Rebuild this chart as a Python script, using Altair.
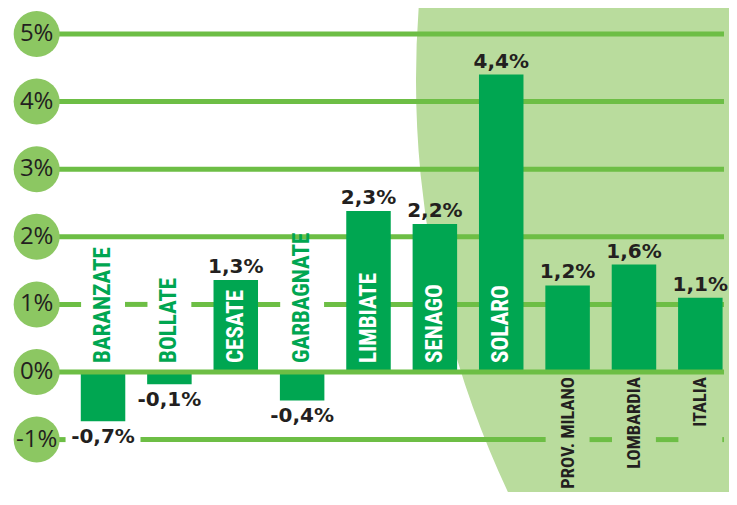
import math
import altair as alt
import pandas as pd

# ---------------- data ----------------
categories = ["BARANZATE", "BOLLATE", "CESATE", "GARBAGNATE", "LIMBIATE",
              "SENAGO", "SOLARO", "PROV. MILANO", "LOMBARDIA", "ITALIA"]
values = [-0.73, -0.18, 1.36, -0.42, 2.38, 2.19, 4.4, 1.28, 1.59, 1.1]
value_labels = ["-0,7%", "-0,1%", "1,3%", "-0,4%", "2,3%", "2,2%", "4,4%",
                "1,2%", "1,6%", "1,1%"]
aggregates = ["PROV. MILANO", "LOMBARDIA", "ITALIA"]
tick_values = [5, 4, 3, 2, 1, 0, -1]
tick_labels = ["5%", "4%", "3%", "2%", "1%", "0%", "-1%"]

# ---------------- style ----------------
BAR = "#00a651"
LINE = "#6dbe45"
DOT = "#8cc762"
BG = "#b9dc9d"
INK = "#231f20"
W, H = 721, 484
STEP = 67.3
TICK_X = 24.0                      # pixel centre of the tick circles
X0 = TICK_X + STEP                 # pixel centre of first bar
XMIN, XMAX = -X0 / STEP, (W - X0) / STEP
PX_PER = 67.6
ZERO_Y = 364.0
YMAX = ZERO_Y / PX_PER
YMIN = -(H - ZERO_Y) / PX_PER
BARW = 44.5
HALF = BARW / STEP / 2

n = len(categories)
df = pd.DataFrame({
    "i": list(range(n)),
    "cat": categories,
    "value": values,
    "label": value_labels,
})
df["base"] = 0.0
df["agg"] = df["cat"].isin(aggregates)

xs = alt.Scale(domain=[XMIN, XMAX], nice=False, zero=False)
ys = alt.Scale(domain=[YMIN, YMAX], nice=False, zero=False)
X = lambda f: alt.X(f, scale=xs, axis=None)
Y = lambda f: alt.Y(f, scale=ys, axis=None)

# background round shape (vega circle radius = sqrt(size)/2)
R = 968
bg = alt.Chart(pd.DataFrame({"a": [0]})).mark_circle(
    color=BG, opacity=1, size=(2 * R) ** 2, clip=True
).encode(x=alt.value(408 + R), y=alt.value(72))

# grid line segments
def segments(yv, gaps):
    segs = []
    start = -1.0
    for c, hw in sorted(gaps):
        segs.append((yv, start, c - hw))
        start = c + hw
    segs.append((yv, start, XMAX))
    return segs

seg_rows = []
for t in tick_values:
    if t == 0:
        continue
    if t == 1:
        gaps = [(k, HALF) for k in range(n) if values[k] < 0]
    elif t == -1:
        gaps = [(0, 38 / STEP)] + [(k, HALF) for k in range(n) if categories[k] in aggregates]
    else:
        gaps = []
    seg_rows += segments(t, gaps)
segdf = pd.DataFrame(seg_rows, columns=["y", "x0", "x1"])

grid = alt.Chart(segdf).mark_rule(color=LINE, strokeWidth=5, clip=True).encode(
    x=X("x0:Q"), x2="x1:Q", y=Y("y:Q"))

zero = alt.Chart(pd.DataFrame({"y": [0.0], "x0": [-1.0], "x1": [XMAX]})).mark_rule(
    color=LINE, strokeWidth=5, clip=True).encode(x=X("x0:Q"), x2="x1:Q", y=Y("y:Q"))

bars = alt.Chart(df).mark_bar(color=BAR, width=BARW, orient="vertical").encode(
    x=X("i:Q"), y=Y("value:Q"), y2="base:Q")

tdf = pd.DataFrame({"t": tick_values, "lab": tick_labels})
tdf["x"] = -1.0
dots = alt.Chart(tdf).mark_circle(color=DOT, opacity=1, size=46 ** 2).encode(
    x=X("x:Q"), y=Y("t:Q"))
dot_text = alt.Chart(tdf).mark_text(
    font="Open Sans", fontSize=24, color=INK, baseline="middle", align="center"
).encode(x=X("x:Q"), y=Y("t:Q"), text="lab:N")

VFONT = "DejaVu Sans"
pos_lab = alt.Chart(df[df.value >= 0]).mark_text(
    font=VFONT, fontWeight="bold", fontSize=20, color=INK, baseline="alphabetic",
    align="center", dy=-7
).encode(x=X("i:Q"), y=Y("value:Q"), text="label:N")
neg_lab = alt.Chart(df[df.value < 0]).mark_text(
    font=VFONT, fontWeight="bold", fontSize=20, color=INK, baseline="top",
    align="center", dy=6
).encode(x=X("i:Q"), y=Y("value:Q"), text="label:N")

CFONT = "Roboto Condensed, Liberation Sans Narrow, DejaVu Sans Condensed, sans-serif"
inside = df[(~df["agg"]) & (df.value >= 0)]
outside = df[(~df["agg"]) & (df.value < 0)]
below = df[df["agg"]]

def cat_text(d, color, align, dx, size=23):
    return alt.Chart(d).mark_text(
        font=CFONT, fontWeight="bold", fontSize=size, color=color, angle=270,
        align=align, baseline="middle", dx=dx
    ).encode(x=X("i:Q"), y=Y("base:Q"), text="cat:N")

cat_in = cat_text(inside, "white", "left", 9)
cat_out = cat_text(outside, BAR, "left", 9)
cat_below = cat_text(below, INK, "right", -5, 18.5)

chart = alt.layer(
    bg, grid, bars, zero, dots, dot_text, pos_lab, neg_lab, cat_in, cat_out, cat_below
).properties(
    width=W, height=H, padding=0,
    autosize=alt.AutoSizeParams(type="none"),
).configure_view(stroke=None)

chart.save("out.html", embed_options={"renderer": "svg", "actions": False})
